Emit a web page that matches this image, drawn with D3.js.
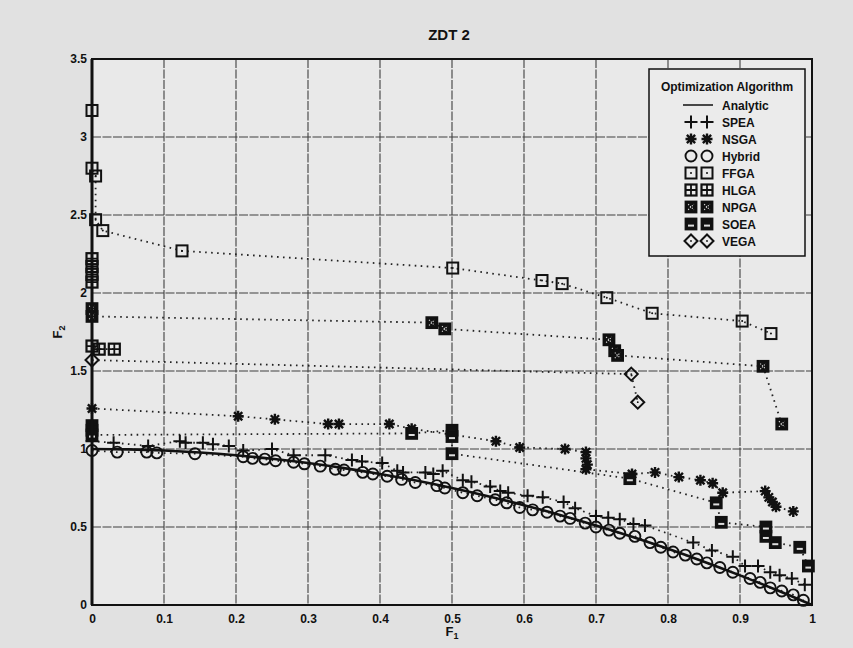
<!DOCTYPE html>
<html>
<head>
<meta charset="utf-8">
<script src="https://cdn.jsdelivr.net/npm/d3@7"></script>
<style>
  html, body { margin: 0; padding: 0; background: #e0e0e0; }
  svg { display: block; }
  text { font-family: "Liberation Sans", Arial, sans-serif; font-weight: bold; fill: #111; }
</style>
</head>
<body>
<svg id="chart" width="853" height="648"></svg>
<script>
// ---- data ----
const xTicks = [0, 0.1, 0.2, 0.3, 0.4, 0.5, 0.6, 0.7, 0.8, 0.9, 1];
const yTicks = [0, 0.5, 1, 1.5, 2, 2.5, 3, 3.5];
const seriesNames = ["Analytic", "SPEA", "NSGA", "Hybrid", "FFGA", "HLGA", "NPGA", "SOEA", "VEGA"];

const analytic = [[0,1],[0.05,0.9975],[0.1,0.99],[0.15,0.9775],[0.2,0.96],[0.25,0.9375],[0.3,0.91],
  [0.35,0.8775],[0.4,0.84],[0.45,0.7975],[0.5,0.75],[0.55,0.6975],[0.6,0.64],[0.65,0.5775],[0.7,0.51],
  [0.75,0.4375],[0.8,0.36],[0.85,0.2775],[0.9,0.19],[0.95,0.0975],[1,0]];

const spea = [[0,1.05],[0.03,1.04],[0.078,1.02],[0.122,1.05],[0.13,1.04],[0.154,1.04],[0.168,1.03],
  [0.19,1.02],[0.21,0.99],[0.25,1.0],[0.28,0.96],[0.324,0.96],[0.361,0.93],[0.375,0.92],[0.403,0.91],
  [0.424,0.86],[0.432,0.85],[0.463,0.85],[0.474,0.84],[0.487,0.86],[0.515,0.80],[0.527,0.79],
  [0.553,0.76],[0.567,0.73],[0.578,0.72],[0.605,0.70],[0.626,0.69],[0.655,0.66],[0.671,0.62],
  [0.70,0.57],[0.717,0.56],[0.733,0.55],[0.752,0.52],[0.768,0.51],[0.835,0.40],[0.861,0.35],
  [0.89,0.31],[0.907,0.25],[0.925,0.25],[0.942,0.21],[0.955,0.19],[0.972,0.17],[0.99,0.13]];

const nsga = [[0,1.26],[0.203,1.21],[0.254,1.19],[0.328,1.16],[0.343,1.16],[0.413,1.16],[0.444,1.13],
  [0.561,1.05],[0.594,1.01],[0.657,1.0],[0.686,0.98],[0.686,0.94],[0.688,0.90],[0.686,0.87],
  [0.75,0.84],[0.782,0.85],[0.815,0.82],[0.845,0.80],[0.862,0.78],[0.876,0.72],[0.935,0.73],
  [0.94,0.69],[0.945,0.66],[0.95,0.63],[0.974,0.60]];

const hybrid = [[0,0.99],[0.035,0.98],[0.076,0.98],[0.09,0.975],[0.143,0.97],[0.21,0.95],[0.223,0.94],
  [0.24,0.935],[0.255,0.925],[0.28,0.915],[0.295,0.905],[0.317,0.89],[0.338,0.87],[0.35,0.865],
  [0.376,0.85],[0.39,0.84],[0.41,0.825],[0.43,0.805],[0.449,0.785],[0.479,0.765],[0.49,0.75],
  [0.515,0.72],[0.535,0.70],[0.56,0.675],[0.576,0.655],[0.594,0.625],[0.612,0.61],[0.632,0.595],
  [0.65,0.57],[0.664,0.555],[0.685,0.525],[0.70,0.50],[0.718,0.48],[0.733,0.46],[0.754,0.44],
  [0.775,0.40],[0.79,0.37],[0.807,0.34],[0.824,0.32],[0.84,0.295],[0.854,0.27],[0.872,0.24],
  [0.89,0.21],[0.914,0.17],[0.928,0.145],[0.942,0.11],[0.958,0.09],[0.974,0.065],[0.988,0.03]];

const ffga = [[0,3.17],[0,2.80],[0.005,2.75],[0.005,2.47],[0.015,2.40],[0.125,2.27],[0.501,2.16],
  [0.625,2.08],[0.653,2.06],[0.715,1.97],[0.778,1.87],[0.903,1.82],[0.943,1.74]];

const hlga = [[0,2.22],[0,2.17],[0,2.12],[0,2.07],[0,1.66],[0.01,1.64],[0.031,1.64]];

const npga = [[0,1.90],[0,1.85],[0.472,1.81],[0.49,1.77],[0.718,1.70],[0.726,1.63],[0.73,1.60],
  [0.932,1.53],[0.958,1.16]];

const soea = [[0,1.15],[0,1.12],[0,1.09],[0.444,1.10],[0.5,1.12],[0.5,1.08],[0.5,0.97],[0.747,0.81],
  [0.867,0.655],[0.874,0.53],[0.936,0.50],[0.936,0.44],[0.949,0.40],[0.983,0.37],[0.995,0.25]];

const vega = [[0,1.57],[0.749,1.48],[0.758,1.30]];

const markerSeries = [
  { name: "SPEA", pts: spea, sym: "plus" },
  { name: "NSGA", pts: nsga, sym: "star" },
  { name: "Hybrid", pts: hybrid, sym: "circle" },
  { name: "FFGA", pts: ffga, sym: "sqdot" },
  { name: "HLGA", pts: hlga, sym: "sqplus" },
  { name: "NPGA", pts: npga, sym: "sqx" },
  { name: "SOEA", pts: soea, sym: "sqbar" },
  { name: "VEGA", pts: vega, sym: "diamond" }
];

// ---- layout ----
const svg = d3.select("#chart");
const W = 853, H = 648;
const plot = { left: 92, right: 812, top: 59, bottom: 605 };

const x = d3.scaleLinear().domain([0, 1]).range([plot.left, plot.right]);
const y = d3.scaleLinear().domain([0, 3.5]).range([plot.bottom, plot.top]);

svg.append("rect").attr("width", W).attr("height", H).attr("fill", "#e1e1e1");
svg.append("rect")
  .attr("x", plot.left).attr("y", plot.top)
  .attr("width", plot.right - plot.left).attr("height", plot.bottom - plot.top)
  .attr("fill", "#e9e9e9");

// grid
const grid = svg.append("g").attr("stroke", "#404040").attr("stroke-width", 1.1).attr("stroke-dasharray", "9,1.5");
grid.selectAll(".gx").data(xTicks.slice(1, -1)).join("line")
  .attr("x1", d => x(d)).attr("x2", d => x(d)).attr("y1", plot.top).attr("y2", plot.bottom);
grid.selectAll(".gy").data(yTicks.slice(1, -1)).join("line")
  .attr("y1", d => y(d)).attr("y2", d => y(d)).attr("x1", plot.left).attr("x2", plot.right);

// axes with d3 axis generators (labels drawn by the axes)
const xAxis = d3.axisBottom(x).tickValues(xTicks).tickSize(0).tickPadding(9)
  .tickFormat(d => d === 0 ? "0" : d === 1 ? "1" : d3.format(".1f")(d));
const gx = svg.append("g").attr("transform", `translate(0,${plot.bottom})`).call(xAxis);
gx.select(".domain").remove();
gx.selectAll("text").attr("font-size", 12).attr("font-family", "Liberation Sans, Arial, sans-serif")
  .attr("font-weight", "bold").attr("fill", "#111");

const yAxis = d3.axisLeft(y).tickValues(yTicks).tickSize(0).tickPadding(5)
  .tickFormat(d => Number.isInteger(d) ? String(d) : d3.format(".1f")(d));
const gy = svg.append("g").attr("transform", `translate(${plot.left},0)`).call(yAxis);
gy.select(".domain").remove();
gy.selectAll("text").attr("font-size", 12).attr("font-family", "Liberation Sans, Arial, sans-serif")
  .attr("font-weight", "bold").attr("fill", "#111");

// ---- series ----
const line = d3.line().x(d => x(d[0])).y(d => y(d[1]));
const dataLayer = svg.append("g");

// dotted connectors
markerSeries.forEach(s => {
  dataLayer.append("path").datum(s.pts).attr("d", line)
    .attr("fill", "none").attr("stroke", "#222").attr("stroke-width", 1.8)
    .attr("stroke-dasharray", "1.6,4.4").attr("stroke-linecap", "butt");
});

// analytic front
dataLayer.append("path").datum(analytic)
  .attr("d", line.curve(d3.curveMonotoneX))
  .attr("fill", "none").attr("stroke", "#111").attr("stroke-width", 2.6);
line.curve(d3.curveLinear);

function drawMarker(g, sym, cx, cy) {
  const m = g.append("g").attr("transform", `translate(${cx},${cy})`)
    .attr("stroke", "#111").attr("fill", "none").attr("stroke-width", 1.8);
  const h = 5.5;
  switch (sym) {
    case "plus":
      m.append("path").attr("d", `M${-h-1},0H${h+1}M0,${-h-1}V${h+1}`).attr("stroke-width", 2);
      break;
    case "star":
      m.append("path").attr("d", `M${-h},0H${h}M0,${-h}V${h}M${-h*0.75},${-h*0.75}L${h*0.75},${h*0.75}M${-h*0.75},${h*0.75}L${h*0.75},${-h*0.75}`)
        .attr("stroke-width", 2.4);
      m.append("circle").attr("r", 2.6).attr("fill", "#111").attr("stroke", "none");
      break;
    case "circle":
      m.append("circle").attr("r", 5.5).attr("stroke-width", 1.9);
      break;
    case "sqdot":
      m.append("rect").attr("x", -h).attr("y", -h).attr("width", 2*h).attr("height", 2*h).attr("stroke-width", 2);
      m.append("circle").attr("r", 1).attr("fill", "#111").attr("stroke", "none");
      break;
    case "sqplus":
      m.append("rect").attr("x", -h).attr("y", -h).attr("width", 2*h).attr("height", 2*h).attr("stroke-width", 2.2);
      m.append("path").attr("d", `M${-h},0H${h}M0,${-h}V${h}`).attr("stroke-width", 1.8);
      break;
    case "sqx":
      m.append("rect").attr("x", -h).attr("y", -h).attr("width", 2*h).attr("height", 2*h).attr("fill", "#111").attr("stroke-width", 1.8);
      m.append("path").attr("d", `M-2.8,-2.8L2.8,2.8M-2.8,2.8L2.8,-2.8`).attr("stroke", "#ddd")
        .attr("stroke-width", 1.1).attr("stroke-dasharray", "1.2,1.4");
      break;
    case "sqbar":
      m.append("rect").attr("x", -h).attr("y", -h).attr("width", 2*h).attr("height", 2*h).attr("fill", "#111").attr("stroke-width", 1.8);
      m.append("rect").attr("x", -3).attr("y", 0.6).attr("width", 6).attr("height", 2).attr("fill", "#ddd").attr("stroke", "none");
      break;
    case "diamond":
      m.append("path").attr("d", `M0,${-h-1}L${h+1},0L0,${h+1}L${-h-1},0Z`).attr("stroke-width", 2);
      m.append("circle").attr("r", 0.9).attr("fill", "#111").attr("stroke", "none");
      break;
  }
}

markerSeries.forEach(s => {
  const g = dataLayer.append("g").attr("class", "series-" + s.name);
  s.pts.forEach(p => drawMarker(g, s.sym, x(p[0]), y(p[1])));
});

// frame
svg.append("rect")
  .attr("x", plot.left).attr("y", plot.top)
  .attr("width", plot.right - plot.left).attr("height", plot.bottom - plot.top)
  .attr("fill", "none").attr("stroke", "#111").attr("stroke-width", 2);
svg.append("line").attr("x1", plot.left).attr("x2", plot.left).attr("y1", plot.top).attr("y2", plot.bottom)
  .attr("stroke", "#111").attr("stroke-width", 3);

// ---- titles ----
svg.append("text").attr("x", 449).attr("y", 40).attr("text-anchor", "middle")
  .attr("font-size", 15).text("ZDT 2");

const xl = svg.append("text").attr("x", 452).attr("y", 636).attr("text-anchor", "middle").attr("font-size", 13);
xl.append("tspan").text("F");
xl.append("tspan").attr("font-size", 9).attr("dy", 3).text("1");

const yl = svg.append("text").attr("transform", "translate(62,332) rotate(-90)")
  .attr("text-anchor", "middle").attr("font-size", 13);
yl.append("tspan").text("F");
yl.append("tspan").attr("font-size", 9).attr("dy", 3).text("2");

// ---- legend ----
const leg = { left: 649, right: 805, top: 69, bottom: 256 };
const lg = svg.append("g");
lg.append("rect").attr("x", leg.left).attr("y", leg.top)
  .attr("width", leg.right - leg.left).attr("height", leg.bottom - leg.top)
  .attr("fill", "#ebebeb").attr("stroke", "#111").attr("stroke-width", 1.5);
lg.append("text").attr("x", (leg.left + leg.right) / 2).attr("y", 91).attr("text-anchor", "middle")
  .attr("font-size", 12).text("Optimization Algorithm");

const rowY = d3.scaleLinear().domain([0, seriesNames.length - 1]).range([105, 241]);
seriesNames.forEach((name, i) => {
  const cy = rowY(i);
  if (name === "Analytic") {
    lg.append("line").attr("x1", 683).attr("x2", 713).attr("y1", cy).attr("y2", cy)
      .attr("stroke", "#111").attr("stroke-width", 1.5);
  } else {
    const s = markerSeries.find(d => d.name === name);
    drawMarker(lg, s.sym, 691, cy);
    drawMarker(lg, s.sym, 707, cy);
  }
  lg.append("text").attr("x", 722).attr("y", cy + 4.5).attr("font-size", 12).text(name);
});
</script>
</body>
</html>
